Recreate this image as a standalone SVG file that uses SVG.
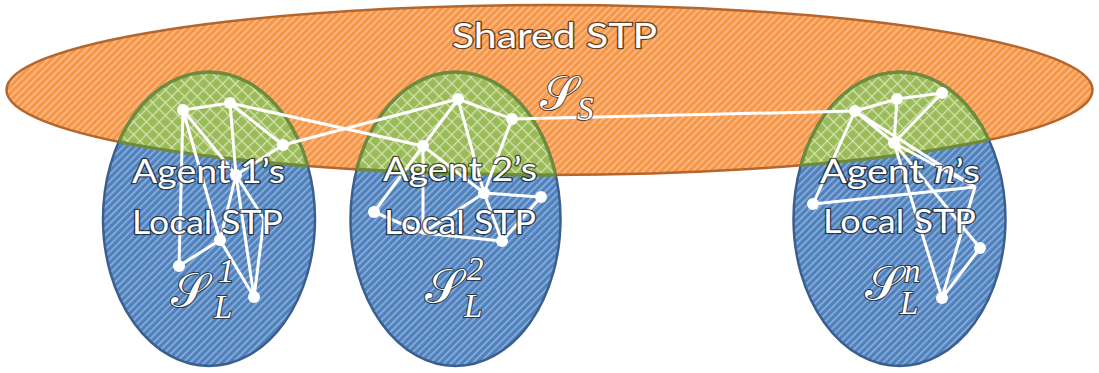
<svg xmlns="http://www.w3.org/2000/svg" width="1099" height="373" viewBox="0 0 1099 373">
<defs>
<pattern id="pO" width="5" height="5" patternUnits="userSpaceOnUse" patternTransform="rotate(45)"><rect width="5" height="5" fill="#F79646"/><rect width="1.6" height="5" fill="#FBBE8E"/></pattern>
<pattern id="pB" width="5" height="5" patternUnits="userSpaceOnUse" patternTransform="rotate(45)"><rect width="5" height="5" fill="#4F81BD"/><rect width="1.6" height="5" fill="#8FB1DC"/></pattern>
<pattern id="pG" width="9" height="9" patternUnits="userSpaceOnUse" patternTransform="rotate(45)"><rect width="9" height="9" fill="#9BBB59"/><path d="M0 0.6H9M0.6 0V9" stroke="#D3E3B1" stroke-width="1.3"/></pattern>
<clipPath id="cO"><ellipse cx="549.5" cy="90" rx="543" ry="85"/></clipPath>
<clipPath id="cB"><ellipse cx="209" cy="219" rx="106" ry="147"/><ellipse cx="455.5" cy="219" rx="105" ry="147"/><ellipse cx="899.5" cy="219" rx="106" ry="147"/></clipPath>
</defs>
<style>
.lab{font-family:Lato,"Liberation Sans",sans-serif;fill:#fff;stroke:#000;stroke-opacity:.62;stroke-width:2.6;paint-order:stroke;stroke-linejoin:round}
.big{font-size:35px}
.ag{font-size:33px}
.m{font-family:"DejaVu Serif","Liberation Serif",serif;fill:#fff;stroke:#000;stroke-opacity:.62;stroke-width:2.2;paint-order:stroke;stroke-linejoin:round}
.ms{font-size:48px}
.sc{font-family:"Liberation Serif",serif;font-style:italic;font-size:33px}
.e{stroke:#fff;stroke-width:3;stroke-linecap:round;stroke-linejoin:round;fill:none}
.p{fill:#fff}
.gr{fill:url(#pG);stroke:#6E8B3D;stroke-width:3.4}
.bl{fill:url(#pB);stroke:#3A5F8F;stroke-width:2.5}
</style>
<g id="shared-stp">
<ellipse cx="549.5" cy="90" rx="543" ry="85" fill="url(#pO)" stroke="#B5662C" stroke-width="2.5"/>
</g>
<g id="agent1-local">
<ellipse class="bl" cx="209" cy="219" rx="106" ry="147"/>
<ellipse class="gr" cx="209" cy="219" rx="106" ry="147" clip-path="url(#cO)"/>
</g>
<g id="agent2-local">
<ellipse class="bl" cx="455.5" cy="219" rx="105" ry="147"/>
<ellipse class="gr" cx="455.5" cy="219" rx="105" ry="147" clip-path="url(#cO)"/>
</g>
<g id="agentn-local">
<ellipse class="bl" cx="899.5" cy="219" rx="106" ry="147"/>
<ellipse class="gr" cx="899.5" cy="219" rx="106" ry="147" clip-path="url(#cO)"/>
</g>
<ellipse cx="549.5" cy="90" rx="543" ry="85" fill="none" stroke="#6E8B3D" stroke-width="3.4" clip-path="url(#cB)"/>
<g id="connectors">
<path class="e" d="M183 110L230 103M183 110L236 175M183 110L220 240M183 110L179 266M230 103L283 145M230 103L236 175M283 145L236 175M236 175L220 240M236 175L254 297M236 175L264 219L254 297M220 240L179 266M220 240L254 297"/>
<path class="e" d="M230 103L423 146M283 145L458 99"/>
<path class="e" d="M458 99L512 119M458 99L423 146M458 99L484 193M512 119L484 193M423 146L484 193M423 146L374 212M423 146L423 233M374 212L423 233L502 241M423 233L484 193M484 193L541 197M484 193L502 241M541 197L502 241"/>
<path class="e" d="M512 119L855 111"/>
<path class="e" d="M855 111L897 99L942 93L894 143M897 99L894 143M855 111L894 143M855 111L813 204M855 111L975 187M894 143L975 187M813 204L975 187M894 143L942 298M894 143L980 248M975 187L942 298M980 248L942 298"/>
</g>
<g id="points" class="p">
<circle cx="183" cy="110" r="6"/><circle cx="230" cy="103" r="6"/><circle cx="283" cy="145" r="6"/><circle cx="236" cy="175" r="6"/><circle cx="220" cy="240" r="6"/><circle cx="179" cy="266" r="6"/><circle cx="254" cy="297" r="6"/>
<circle cx="458" cy="99" r="6"/><circle cx="512" cy="119" r="6"/><circle cx="423" cy="146" r="6"/><circle cx="484" cy="193" r="6"/><circle cx="541" cy="197" r="6"/><circle cx="374" cy="212" r="6"/><circle cx="502" cy="241" r="6"/>
<circle cx="855" cy="111" r="6"/><circle cx="897" cy="99" r="6"/><circle cx="942" cy="93" r="6"/><circle cx="894" cy="143" r="6"/><circle cx="813" cy="204" r="6"/><circle cx="980" cy="248" r="6"/><circle cx="942" cy="298" r="6"/>
</g>
<g id="labels">
<text class="lab big" x="452" y="48" textLength="205" lengthAdjust="spacingAndGlyphs">Shared STP</text>
<text class="lab ag" x="132" y="183" textLength="153" lengthAdjust="spacingAndGlyphs">Agent 1’s</text>
<text class="lab ag" x="132" y="234" textLength="151" lengthAdjust="spacingAndGlyphs">Local STP</text>
<text class="lab ag" x="383" y="181" textLength="154" lengthAdjust="spacingAndGlyphs">Agent 2’s</text>
<text class="lab ag" x="384" y="234" textLength="152" lengthAdjust="spacingAndGlyphs">Local STP</text>
<text class="lab ag" x="820" y="183" textLength="160" lengthAdjust="spacingAndGlyphs">Agent <tspan font-family="Liberation Serif" font-style="italic" font-size="36">n</tspan>’s</text>
<text class="lab ag" x="823" y="233" textLength="153" lengthAdjust="spacingAndGlyphs">Local STP</text>
</g>
<g id="math">
<text class="m ms" x="540" y="110">𝒮</text><text class="m sc" x="577" y="120">S</text>
<text class="m ms" x="171" y="307">𝒮</text><text class="m sc" x="218" y="282" font-style="normal">1</text><text class="m sc" x="214" y="318">L</text>
<text class="m ms" x="425" y="303">𝒮</text><text class="m sc" x="467" y="280" font-style="normal">2</text><text class="m sc" x="464" y="317">L</text>
<text class="m ms" x="865" y="300">𝒮</text><text class="m sc" x="904" y="282">n</text><text class="m sc" x="900" y="314">L</text>
</g>
</svg>
